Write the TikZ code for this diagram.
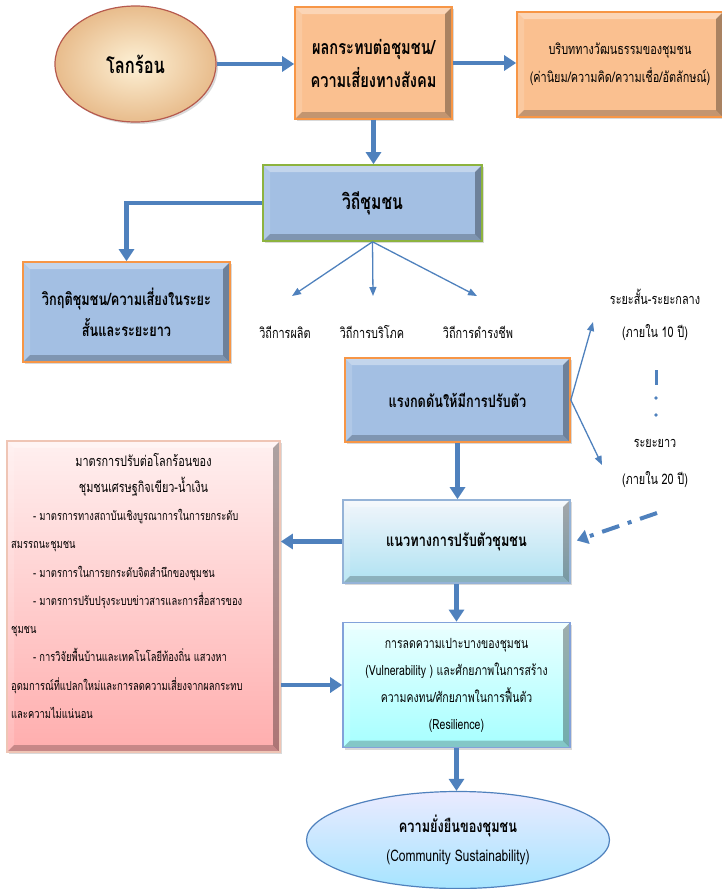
\documentclass[tikz,border=0pt]{standalone}
\usepackage{fontspec}
\setmainfont{Liberation Sans}
\newfontfamily\thai[Script=Thai,FakeStretch=0.75]{Loma}
\usetikzlibrary{arrows.meta,shadows,shapes.geometric,calc}
\definecolor{arr}{HTML}{4F81BD}
\definecolor{orfill}{HTML}{FAC090}
\definecolor{orline}{HTML}{F79646}
\definecolor{blfill}{HTML}{A3BFE3}
\definecolor{grline}{HTML}{8DB33F}
\definecolor{tan}{HTML}{E8BC8C}
\definecolor{tanin}{HTML}{FDF1D6}
\definecolor{redline}{HTML}{B65A4E}
\tikzset{
  bevel/.style={path picture={
    \fill[white,opacity=0.35] (path picture bounding box.north west) -- (path picture bounding box.north east) -- ([xshift=-7pt,yshift=-7pt]path picture bounding box.north east) -- ([xshift=7pt,yshift=-7pt]path picture bounding box.north west) -- cycle;
    \fill[white,opacity=0.15] (path picture bounding box.north west) -- (path picture bounding box.south west) -- ([xshift=7pt,yshift=7pt]path picture bounding box.south west) -- ([xshift=7pt,yshift=-7pt]path picture bounding box.north west) -- cycle;
    \fill[black,opacity=0.22] (path picture bounding box.south west) -- (path picture bounding box.south east) -- ([xshift=-7pt,yshift=7pt]path picture bounding box.south east) -- ([xshift=7pt,yshift=7pt]path picture bounding box.south west) -- cycle;
    \fill[black,opacity=0.32] (path picture bounding box.north east) -- (path picture bounding box.south east) -- ([xshift=-7pt,yshift=7pt]path picture bounding box.south east) -- ([xshift=-7pt,yshift=-7pt]path picture bounding box.north east) -- cycle;
  }},
  boxbase/.style={rectangle, inner sep=0pt, align=center, line width=1.6pt, bevel,
    drop shadow={opacity=0.3, shadow xshift=2pt, shadow yshift=-2pt}},
  orbox/.style={boxbase, fill=orfill, draw=orline},
  blbox/.style={boxbase, fill=blfill, draw=orline},
  thickarr/.style={draw=arr, line width=4.5pt, -{Triangle[width=15pt,length=12pt]}},
  thinarr/.style={draw=arr, line width=1.3pt, -{Triangle[width=7pt,length=9pt]}},
  lbl/.style={inner sep=0pt, align=center, font=\thai\fontsize{14.5}{36}\selectfont},
}
\begin{document}
\begin{tikzpicture}[x=1pt,y=-1pt,font=\thai]
\useasboundingbox (0,0) rectangle (722,889);

% top row
\node[ellipse, minimum width=161pt, minimum height=116pt, shading=radial, inner color=tanin, outer color=tan, draw=redline, line width=1.2pt,
  drop shadow={opacity=0.3, shadow xshift=2pt, shadow yshift=-2pt}, font=\thai\bfseries\fontsize{22}{26}\selectfont] (hot) at (135.5,64) {โลกร้อน};
\node[orbox, minimum width=157pt, minimum height=112pt, font=\thai\bfseries\fontsize{19.5}{33}\selectfont] (impact) at (373.5,63) {ผลกระทบต่อชุมชน/\\ความเสี่ยงทางสังคม};
\node[orbox, minimum width=206pt, minimum height=105pt, font=\thai\fontsize{14.5}{28}\selectfont] (culture) at (620,64.5) {บริบททางวัฒนธรรมของชุมชน\\(ค่านิยม/ความคิด/ความเชื่อ/อัตลักษณ์)};

\draw[thickarr] (hot.east) -- (hot.east -| impact.west);
\draw[thickarr] (impact.east) -- (impact.east -| culture.west);

% way of life
\node[boxbase, fill=blfill, draw=grline, minimum width=219pt, minimum height=76pt, font=\thai\bfseries\fontsize{21}{24}\selectfont] (way) at (372.5,203) {วิถีชุมชน};
\draw[thickarr] (impact.south) -- (impact.south |- way.north);

\node[blbox, minimum width=207pt, minimum height=100pt, font=\thai\bfseries\fontsize{17}{31}\selectfont] (crisis) at (126.5,312) {วิกฤติชุมชน/ความเสี่ยงในระยะ\\สั้นและระยะยาว};
\draw[thickarr] (way.west) -| (crisis.north);

\coordinate (p1) at (292,296);
\coordinate (p2) at (373,296);
\coordinate (p3) at (477,296);
\draw[thinarr] (way.south) -- (p1);
\draw[thinarr] (way.south) -- (p2);
\draw[thinarr] (way.south) -- (p3);
\node[lbl] (w1) at (285,332) {วิถีการผลิต};
\node[lbl] (w2) at (372,332) {วิถีการบริโภค};
\node[lbl] (w3) at (478,332) {วิถีการดำรงชีพ};

% pressure
\node[blbox, minimum width=225pt, minimum height=84pt, font=\thai\bfseries\fontsize{17}{20}\selectfont] (press) at (457.5,400) {แรงกดดันให้มีการปรับตัว};
\coordinate (t1) at (593,322);
\coordinate (t2) at (602,465);
\draw[thinarr] (press.east) -- (t1);
\draw[thinarr] (press.east) -- (t2);
\node[lbl] (s1) at (655,297) {ระยะสั้น-ระยะกลาง};
\node[lbl] (s2) at (655,333) {(ภายใน 10 ปี)};
\node[lbl] (s3) at (655,443) {ระยะยาว};
\node[lbl] (s4) at (655,480) {(ภายใน 20 ปี)};
\draw[arr, line width=3pt] (656,370) -- (656,385);
\fill[arr] (656,398) circle (1.8pt);
\fill[arr] (656,415) circle (1.8pt);

% guideline
\node[boxbase, top color=white!85!blfill, bottom color=blfill!75!cyan!60, draw=arr!60, minimum width=227pt, minimum height=83pt, font=\thai\bfseries\fontsize{17}{20}\selectfont] (guide) at (456.5,541.5) {แนวทางการปรับตัวชุมชน};
\draw[thickarr] (press.south) -- (press.south |- guide.north);
\coordinate (dd) at (657,513);
\draw[draw=arr, line width=4pt, dash pattern=on 18pt off 9pt on 4pt off 9pt, -{Triangle[width=14pt,length=11pt]}] (dd) -- ($(guide.east)+(6,-1)$);

% measures
\node[boxbase, top color=red!6, bottom color=red!32, draw=red!30!brown!35, minimum width=273pt, minimum height=311pt] (meas) at (143.5,596.5) {};
\node[inner sep=0pt, align=center, font=\thai\fontsize{14.5}{26}\selectfont] (mtitle) at (143.5,475) {มาตรการปรับต่อโลกร้อนของ\\ชุมชนเศรษฐกิจเขียว-น้ำเงิน};
\node[inner sep=0pt, align=left, anchor=north west, font=\thai\fontsize{12.5}{28.3}\selectfont] (mbody) at (11,509) {%
\hspace*{22pt}- มาตรการทางสถาบันเชิงบูรณาการในการยกระดับ\\
สมรรถนะชุมชน\\
\hspace*{22pt}- มาตรการในการยกระดับจิตสำนึกของชุมชน\\
\hspace*{22pt}- มาตรการปรับปรุงระบบข่าวสารและการสื่อสารของ\\
ชุมชน\\
\hspace*{22pt}- การวิจัยพื้นบ้านและเทคโนโลยีท้องถิ่น แสวงหา\\
อุดมการณ์ที่แปลกใหม่และการลดความเสี่ยงจากผลกระทบ\\
และความไม่แน่นอน};
\draw[thickarr] (guide.west) -- (guide.west -| meas.east);

% resilience
\node[boxbase, top color=cyan!8, bottom color=cyan!35, draw=cyan!45!blue!50, minimum width=227pt, minimum height=125pt, font=\thai\fontsize{14}{27}\selectfont] (resil) at (456.5,685) {การลดความเปาะบางของชุมชน\\(Vulnerability ) และศักยภาพในการสร้าง\\ความคงทน/ศักยภาพในการฟื้นตัว\\(Resilience)};
\draw[thickarr] (guide.south) -- (guide.south |- resil.north);
\draw[thickarr] (meas.east |- resil.west) -- (resil.west);

% sustainability
\node[ellipse, minimum width=303pt, minimum height=97pt, top color=blue!8, bottom color=blue!30!cyan!35, draw=arr, line width=1.2pt, align=center, font=\thai\bfseries\fontsize{17}{29}\selectfont] (sust) at (458,840) {ความยั่งยืนของชุมชน\\{\mdseries\fontsize{16}{15}\selectfont(Community Sustainability)}};
\draw[thickarr] (resil.south) -- (resil.south |- sust.north);
\end{tikzpicture}
\end{document}
